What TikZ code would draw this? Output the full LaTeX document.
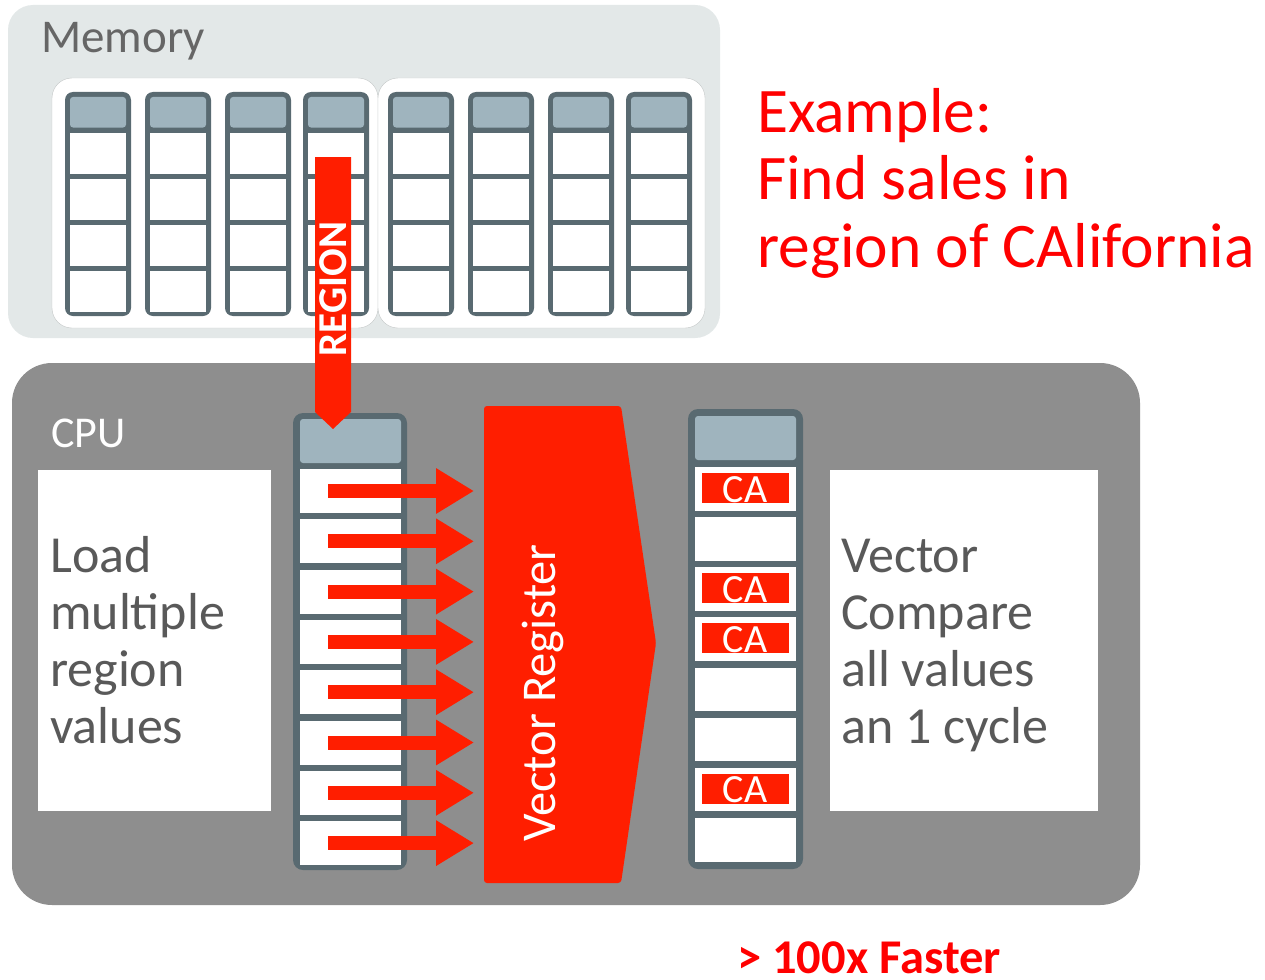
\documentclass[tikz,border=0pt]{standalone}
\usepackage{fontspec}
\setmainfont{Carlito}
\usetikzlibrary{arrows.meta,positioning}
\definecolor{memgray}{RGB}{227,232,232}
\definecolor{memline}{RGB}{196,200,200}
\definecolor{slate}{RGB}{89,106,113}
\definecolor{headblue}{RGB}{159,180,190}
\definecolor{cpugray}{RGB}{142,142,142}
\definecolor{vred}{RGB}{255,30,0}
\definecolor{txtred}{RGB}{255,0,0}
\definecolor{txtgray}{RGB}{89,89,89}
\definecolor{labgray}{RGB}{102,102,102}

\tikzset{
  colframe/.style={fill=slate, rounded corners=8pt},
  headcell/.style={fill=headblue, rounded corners=3pt},
  cellwhite/.style={fill=white},
  cabox/.style={fill=vred},
  blockarrow/.style={draw=vred, line width=14pt, -{Triangle[length=38pt,width=43pt]}},
  bigtext/.style={txtgray, font=\fontsize{52}{57}\selectfont, align=left, inner sep=0pt, anchor=base west},
}

\begin{document}
\begin{tikzpicture}[x=1pt,y=-1pt]
    \useasboundingbox (0,0) rectangle (1265,979);
    \fill[white] (0,0) rectangle (1265,979);

    % Memory
    \fill[memgray, rounded corners=25pt] (8,5) rectangle (720,338);
    \node[labgray, font=\fontsize{47}{50}\selectfont, anchor=base west, inner sep=0pt] (memlabel) at (41,53) {Memory};
    \draw[memline, fill=white, rounded corners=20pt] (52,78) rectangle (378,328);
    \draw[memline, fill=white, rounded corners=20pt] (378,78) rectangle (705,328);
    \foreach \x in {65,145,225,303,388,468,548,626} {
        \fill[colframe] (\x,92) rectangle ++(66,224);
        \fill[headcell] ({\x+5},97) rectangle ({\x+61},127.5);
        \foreach \r in {0,...,3}
            \fill[cellwhite] ({\x+5},{132.5+46*\r}) rectangle ({\x+61},{173.5+46*\r});
    }

    % CPU
    \fill[cpugray, rounded corners=40pt] (12,363) rectangle (1140,905);
    \node[white, font=\fontsize{44}{48}\selectfont, anchor=base west, inner sep=0pt] (cpulabel) at (51,447) {CPU};
    \fill[white] (38,470) rectangle (271,811);
    \node[bigtext] (loadtxt) at (50,743) {Load\\multiple\\region\\values};
    \fill[white] (830,470) rectangle (1098,811);
    \node[bigtext] (cmptxt) at (841,743) {Vector\\Compare\\all values\\an 1 cycle};

    % source column
    \fill[colframe, rounded corners=10pt] (293,413) rectangle (407,870);
    \fill[headcell] (300,419) rectangle (401,463);
    \foreach \r in {0,...,7}
        \fill[cellwhite] (300,{469+50.3*\r}) rectangle (401,{513+50.3*\r});

    % REGION arrow
    \fill[vred] (315,157) -- (351,157) -- (351,412) -- (333,429) -- (315,412) -- cycle;
    \node[white, rotate=90, anchor=base, inner sep=0pt, font=\bfseries\fontsize{41}{41}\selectfont] (region) at (346,289) {REGION};

    % vector register
    \fill[vred, rounded corners=3pt] (484,406) -- (621,406) -- (656,643) -- (621,883) -- (484,883) -- cycle;
    \node[white, rotate=90, anchor=base, inner sep=0pt, font=\fontsize{48.5}{49}\selectfont] (vreg) at (555,693) {Vector Register};
    \coordinate (vregin) at (474,643);

    % load arrows
    \foreach \i in {0,...,7} {
        \coordinate (src\i) at (328,{491+50.3*\i});
        \draw[blockarrow] (src\i) -- (src\i -| vregin);
    }

    % result column
    \fill[colframe, rounded corners=10pt] (688,409) rectangle (803,869);
    \fill[headcell] (695,416) rectangle (796,460);
    \foreach \r in {0,...,7}
        \fill[cellwhite] (695,{467+50.15*\r}) rectangle (796,{510.5+50.15*\r});
    \foreach \r in {0,2,3,6} {
        \fill[cabox] (702,{473+50.15*\r}) rectangle (789,{503+50.15*\r});
        \node[white, anchor=base, inner sep=0pt, font=\fontsize{40}{40}\selectfont] (ca\r) at (745,{502+50.15*\r}) {CA};
    }

    % red notes
    \node[txtred, font=\fontsize{63.5}{67.5}\selectfont, align=left, anchor=base west, inner sep=0pt] (example) at (757,267) {Example:\\Find sales in\\region of CAlifornia};
    \node[txtred, font=\bfseries\fontsize{48.5}{49}\selectfont, anchor=base west, inner sep=0pt] (faster) at (737,973) {> 100x Faster};
\end{tikzpicture}
\end{document}
